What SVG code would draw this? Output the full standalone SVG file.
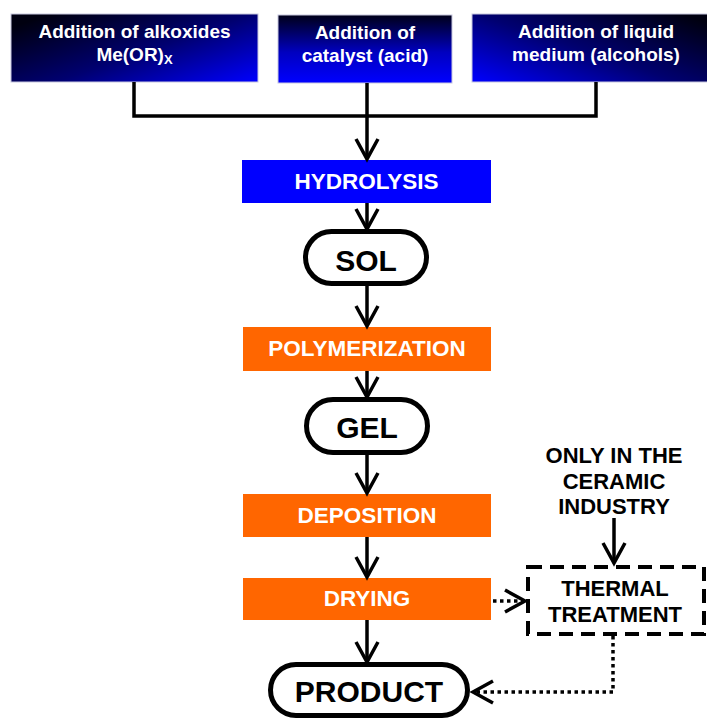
<svg xmlns="http://www.w3.org/2000/svg" width="707" height="718" viewBox="0 0 707 718">
<defs>
<linearGradient id="gL" x1="0" y1="0.2" x2="1" y2="1">
<stop offset="0" stop-color="#000010"/>
<stop offset="0.5" stop-color="#000070"/>
<stop offset="1" stop-color="#0000FF"/>
</linearGradient>
<linearGradient id="gR" x1="1" y1="0.2" x2="0" y2="1">
<stop offset="0" stop-color="#000010"/>
<stop offset="0.5" stop-color="#000070"/>
<stop offset="1" stop-color="#0000FF"/>
</linearGradient>
<linearGradient id="gV" x1="0" y1="0" x2="0" y2="1">
<stop offset="0" stop-color="#000018"/>
<stop offset="0.55" stop-color="#0000C0"/>
<stop offset="1" stop-color="#0000FF"/>
</linearGradient>
<marker id="arr" markerUnits="userSpaceOnUse" markerWidth="30" markerHeight="30" refX="0" refY="0" orient="auto" overflow="visible">
<path d="M-20,-11 L0,0 L-20,11" fill="none" stroke="#000" stroke-width="3.5"/>
</marker>
</defs>
<style>
.top{stroke:#c8c8e0;stroke-width:1}
.tw{font-family:"Liberation Sans",Arial,sans-serif;font-weight:bold;fill:#fff;text-anchor:middle}
.tb{font-family:"Liberation Sans",Arial,sans-serif;font-weight:bold;fill:#000;text-anchor:middle}
.pill{fill:#fff;stroke:#000;stroke-width:5}
.ln{fill:none;stroke:#000;stroke-width:3.5}
.dot{fill:none;stroke:#000;stroke-width:3.5;stroke-dasharray:3.5 3.5}
</style>

<g id="alkoxides">
<rect class="top" x="11" y="14" width="247" height="68" fill="url(#gL)"/>
<text class="tw" x="134.5" y="38" font-size="19">Addition of alkoxides</text>
<text class="tw" x="134.5" y="61" font-size="19">Me(OR)<tspan font-size="13" dy="3">X</tspan></text>
</g>
<g id="catalyst">
<rect class="top" x="278" y="15" width="174" height="68" fill="url(#gV)"/>
<text class="tw" x="365" y="39" font-size="19">Addition of</text>
<text class="tw" x="365" y="62" font-size="19">catalyst (acid)</text>
</g>
<g id="liquid">
<rect class="top" x="472" y="14" width="250" height="68" fill="url(#gR)"/>
<text class="tw" x="596" y="38" font-size="19">Addition of liquid</text>
<text class="tw" x="596" y="61" font-size="19">medium (alcohols)</text>
</g>

<g id="hydrolysis">
<rect x="242" y="160" width="249" height="43" fill="#0000FF"/>
<text class="tw" x="366.5" y="189" font-size="22.5">HYDROLYSIS</text>
</g>
<g id="sol">
<rect class="pill" x="305.5" y="231.5" width="121" height="52" rx="26"/>
<text class="tb" x="366" y="271" font-size="30">SOL</text>
</g>
<g id="polymerization">
<rect x="243" y="327" width="248" height="44" fill="#FF6600"/>
<text class="tw" x="367" y="356" font-size="22.5">POLYMERIZATION</text>
</g>
<g id="gel">
<rect class="pill" x="306.5" y="399.5" width="121" height="53" rx="26.5"/>
<text class="tb" x="367" y="438" font-size="30">GEL</text>
</g>
<g id="deposition">
<rect x="243" y="494" width="248" height="43" fill="#FF6600"/>
<text class="tw" x="367" y="523" font-size="22.5">DEPOSITION</text>
</g>
<g id="drying">
<rect x="243" y="578" width="248" height="42" fill="#FF6600"/>
<text class="tw" x="367" y="606" font-size="22.5">DRYING</text>
</g>
<g id="product">
<rect class="pill" x="270.5" y="664.5" width="197" height="51" rx="25.5"/>
<text class="tb" x="369" y="702" font-size="30">PRODUCT</text>
</g>
<g id="ceramic-note">
<text class="tb" x="614" y="463" font-size="22">ONLY IN THE</text>
<text class="tb" x="614" y="489" font-size="22">CERAMIC</text>
<text class="tb" x="614" y="514" font-size="22">INDUSTRY</text>
</g>
<g id="thermal">
<rect x="528" y="567" width="176" height="67" fill="none" stroke="#000" stroke-width="4" stroke-dasharray="14 8"/>
<text class="tb" x="615" y="596" font-size="22">THERMAL</text>
<text class="tb" x="615" y="622" font-size="22">TREATMENT</text>
</g>

<g id="connectors">
<polyline class="ln" points="134,82 134,116 596,116 596,82"/>
<line class="ln" x1="367" y1="83" x2="367" y2="159" marker-end="url(#arr)"/>
<line class="ln" x1="367" y1="203" x2="367" y2="229" marker-end="url(#arr)"/>
<line class="ln" x1="367" y1="286" x2="367" y2="326" marker-end="url(#arr)"/>
<line class="ln" x1="367" y1="371" x2="367" y2="397" marker-end="url(#arr)"/>
<line class="ln" x1="367" y1="455" x2="367" y2="493" marker-end="url(#arr)"/>
<line class="ln" x1="367" y1="537" x2="367" y2="577" marker-end="url(#arr)"/>
<line class="ln" x1="367" y1="620" x2="367" y2="662" marker-end="url(#arr)"/>
<line class="ln" x1="614" y1="518" x2="614" y2="563" marker-end="url(#arr)"/>
<line class="dot" x1="493" y1="601" x2="525" y2="601" marker-end="url(#arr)"/>
<polyline class="dot" points="613,636 613,692 473,692" marker-end="url(#arr)"/>
</g>
</svg>
